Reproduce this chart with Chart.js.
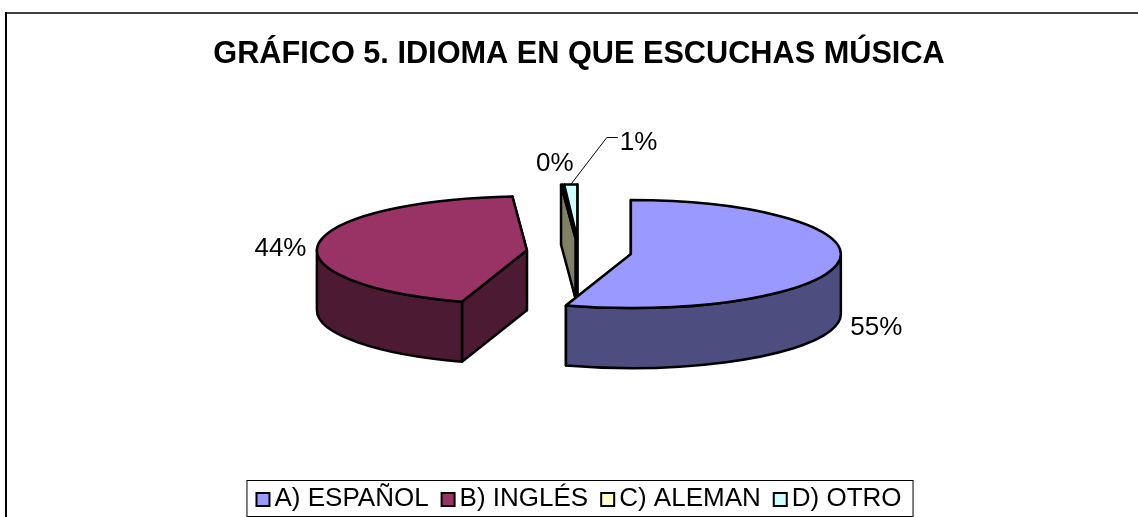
<!DOCTYPE html>
<html>
<head>
<meta charset="utf-8">
<style>html,body{margin:0;padding:0;background:#fff;overflow:hidden}canvas{display:block}</style>
<script src="https://cdn.jsdelivr.net/npm/chart.js@4/dist/chart.umd.min.js"></script>
</head>
<body>
<canvas id="c" width="1138" height="517"></canvas>
<script>
const chartTitle = 'GRÁFICO 5. IDIOMA EN QUE ESCUCHAS MÚSICA';
const categories = ['A) ESPAÑOL', 'B) INGLÉS', 'C) ALEMAN', 'D) OTRO'];
const shares = [55, 43.9, 0.1, 1.0];
const topColors = ['#9999FF', '#993366', '#FFFFCC', '#CCFFFF'];
const wallColors = ['#4D4D80', '#4D1A33', '#808066', '#668080'];
const fontFamily = '"Liberation Sans", Arial, sans-serif';

const EXPLODE = 52.5, RADIUS = 210, SQUASH = 54 / 210, DEPTH = 60, CENTER_Y = 252;
const OUTLINE = 2.5;
// label: alignment and offset from the slice's rim point at its mid angle
const labelPlacement = [
  {align: 'left',  dx: 12, dy: 65},
  {align: 'right', dx: -12, dy: 5},
  {align: 'right', dx: 12, dy: -21},
  {align: 'left',  dx: 49, dy: -42}
];

function geometry(chart, i) {
  const a = chart.getDatasetMeta(0).data[i];
  const o = a.options.offset / 4, mid = (a.startAngle + a.endAngle) / 2;
  return {
    cx: a.x + Math.cos(mid) * o,
    cy: CENTER_Y + Math.sin(mid) * o * SQUASH,
    rx: RADIUS, ry: RADIUS * SQUASH,
    a0: a.trueStart, a1: a.trueEnd, mid
  };
}
function rim(g, ang) { return [g.cx + Math.cos(ang) * g.rx, g.cy + Math.sin(ang) * g.ry]; }

const pie3d = {
  id: 'pie3d',
  afterDatasetsUpdate(chart) {
    // Chart.js paints an exploded arc with a larger radius and a narrower sweep, both
    // depending on its sweep; compensate so that each slice keeps its true radius and angles.
    chart.getDatasetMeta(0).data.forEach(a => {
      const fix = 1 - Math.sin(Math.min(Math.PI, a.circumference));
      const grow = (a.options.offset / 4) * fix;
      const inset = grow / (2 * Math.PI * RADIUS);
      a.outerRadius = RADIUS - grow;
      a.trueStart = a.startAngle;
      a.trueEnd = a.endAngle;
      a.startAngle -= inset;
      a.endAngle += inset;
    });
  },
  beforeDraw(chart) {
    const ctx = chart.ctx;
    ctx.save();
    ctx.lineWidth = 2;
    ctx.strokeStyle = '#404040';
    ctx.beginPath(); ctx.moveTo(6, 13); ctx.lineTo(1138, 13); ctx.stroke();
    ctx.strokeStyle = '#000';
    ctx.beginPath(); ctx.moveTo(6, 12); ctx.lineTo(6, 517); ctx.stroke();
    ctx.restore();
  },
  beforeDatasetsDraw(chart) {
    const ctx = chart.ctx;
    ctx.save();
    ctx.lineWidth = OUTLINE; ctx.lineJoin = 'round'; ctx.strokeStyle = '#000';
    [3, 2, 1, 0].forEach(i => {
      const g = geometry(chart, i);
      ctx.fillStyle = wallColors[i];
      [g.a1, g.a0].forEach(ang => {
        const p = rim(g, ang);
        ctx.beginPath();
        ctx.moveTo(g.cx, g.cy); ctx.lineTo(p[0], p[1]);
        ctx.lineTo(p[0], p[1] + DEPTH); ctx.lineTo(g.cx, g.cy + DEPTH);
        ctx.closePath(); ctx.fill(); ctx.stroke();
      });
      const s = Math.max(g.a0, 0), e = Math.min(g.a1, Math.PI);
      if (e > s) {
        ctx.beginPath();
        ctx.ellipse(g.cx, g.cy, g.rx, g.ry, 0, s, e);
        ctx.ellipse(g.cx, g.cy + DEPTH, g.rx, g.ry, 0, e, s, true);
        ctx.closePath(); ctx.fill(); ctx.stroke();
      }
    });
    ctx.restore();
    // the library's arcs are drawn through this flattening transform
    const y0 = chart.getDatasetMeta(0).data[0].y;
    ctx.save();
    ctx.translate(0, CENTER_Y); ctx.scale(1, SQUASH); ctx.translate(0, -y0);
  },
  afterDatasetsDraw(chart) {
    const ctx = chart.ctx;
    ctx.restore();
    ctx.save();
    ctx.lineWidth = OUTLINE; ctx.lineJoin = 'round'; ctx.strokeStyle = '#000';
    const total = shares.reduce((s, v) => s + v, 0);
    categories.forEach((_, i) => {
      const g = geometry(chart, i);
      ctx.beginPath();
      ctx.moveTo(g.cx, g.cy);
      ctx.ellipse(g.cx, g.cy, g.rx, g.ry, 0, g.a0, g.a1);
      ctx.closePath(); ctx.stroke();
    });
    // leader line of the last slice
    const d = geometry(chart, 3), lp = rim(d, d.mid);
    ctx.lineWidth = 1; ctx.strokeStyle = '#000';
    ctx.beginPath();
    ctx.moveTo(lp[0], lp[1]); ctx.lineTo(lp[0] + 36, lp[1] - 47); ctx.lineTo(lp[0] + 47, lp[1] - 47);
    ctx.stroke();
    // percentage labels
    ctx.fillStyle = '#000'; ctx.font = '26px ' + fontFamily; ctx.textBaseline = 'middle';
    categories.forEach((_, i) => {
      const g = geometry(chart, i), p = rim(g, g.mid), l = labelPlacement[i];
      ctx.textAlign = l.align;
      ctx.fillText(Math.round(shares[i] / total * 100) + '%', p[0] + l.dx, p[1] + l.dy);
    });
    ctx.restore();
  },
  afterDraw(chart) {
    // legend frame and full-size swatches, placed from the legend's own hit boxes
    const ctx = chart.ctx, boxes = chart.legend.legendHitBoxes;
    ctx.save();
    ctx.strokeStyle = '#000'; ctx.lineWidth = 1;
    const first = boxes[0], last = boxes[boxes.length - 1];
    ctx.strokeRect(first.left - 9.5, first.top - 5.5, last.left + last.width - first.left + 21, first.height + 10);
    boxes.forEach((b, i) => {
      ctx.fillStyle = topColors[i];
      ctx.lineWidth = 2; ctx.strokeStyle = '#000';
      ctx.fillRect(b.left, b.top + b.height / 2 - 6, 13, 13);
      ctx.strokeRect(b.left, b.top + b.height / 2 - 6, 13, 13);
    });
    ctx.restore();
  }
};

new Chart(document.getElementById('c'), {
  type: 'pie',
  data: {
    labels: categories,
    datasets: [{
      data: shares,
      backgroundColor: topColors,
      borderWidth: 0,
      offset: EXPLODE * 4,
      clip: false
    }]
  },
  options: {
    responsive: false,
    animation: false,
    radius: RADIUS,
    layout: {padding: {left: 20, right: 0, top: 0, bottom: -5}},
    plugins: {
      tooltip: {enabled: false},
      title: {
        display: true, text: chartTitle, color: '#000',
        font: {family: fontFamily, size: 30.7, weight: 'bold', lineHeight: 1},
        padding: {top: 39, bottom: 8}
      },
      legend: {
        display: true, position: 'bottom',
        labels: {
          color: '#000', boxWidth: 5, boxHeight: 13, padding: 13,
          font: {family: fontFamily, size: 26}
        }
      }
    }
  },
  plugins: [pie3d]
});
</script>
</body>
</html>
